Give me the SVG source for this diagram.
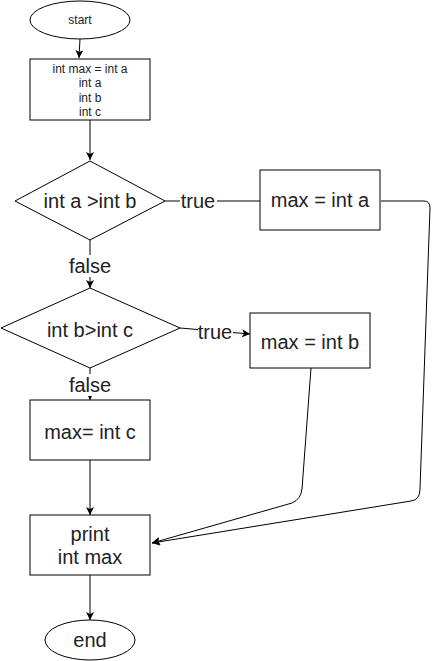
<svg xmlns="http://www.w3.org/2000/svg" width="439" height="661" viewBox="0 0 439 661">
<style>
.shape{fill:#fff;stroke:#000;stroke-width:1}
.edge{fill:none;stroke:#000;stroke-width:1}
text{font-family:"Liberation Sans",Arial,sans-serif;fill:#222;text-anchor:middle;dominant-baseline:central}
.s{font-size:12px}
.l{font-size:20px}
.lbl{fill:#fff;stroke:none}
</style>
<defs>
<marker id="arr" markerWidth="10" markerHeight="10" refX="8" refY="4" orient="auto" markerUnits="userSpaceOnUse">
<path d="M0,0 L8,4 L0,8 L2,4 z" fill="#000"/>
</marker>
</defs>
<rect width="439" height="661" fill="#fff"/>
<g id="connectors">
<path class="edge" d="M80,39 L79,58" marker-end="url(#arr)"/>
<path class="edge" d="M90,120 L90,160" marker-end="url(#arr)"/>
<path class="edge" d="M165,201 L260,201"/>
<path class="edge" d="M90,240 L90,288" marker-end="url(#arr)"/>
<path class="edge" d="M180,328 L250,334" marker-end="url(#arr)"/>
<path class="edge" d="M90,368 L90,400" marker-end="url(#arr)"/>
<path class="edge" d="M90,460 L90,515" marker-end="url(#arr)"/>
<path class="edge" d="M90,575 L90,620" marker-end="url(#arr)"/>
<path class="edge" d="M381,201 L424,201 Q430,201 430,208 L420,489 Q420,500 411,501 L152,543" marker-end="url(#arr)"/>
<path class="edge" d="M311,368 L302,489 Q301,499 292,503 L152,543" marker-end="url(#arr)"/>
<rect class="lbl" x="180" y="190" width="37" height="22"/>
<text class="l" x="198" y="201">true</text>
<rect class="lbl" x="198" y="322" width="35" height="22"/>
<text class="l" x="215" y="332">true</text>
<rect class="lbl" x="68" y="255" width="44" height="22"/>
<text class="l" x="90" y="266">false</text>
<rect class="lbl" x="68" y="374" width="44" height="22"/>
<text class="l" x="90" y="385">false</text>
</g>
<g id="start">
<ellipse class="shape" cx="80" cy="20" rx="50" ry="19"/>
<text class="s" x="80" y="20">start</text>
</g>
<g id="init">
<rect class="shape" x="30" y="59" width="120" height="61"/>
<text class="s" x="90" y="69">int max = int a</text>
<text class="s" x="90" y="83">int a</text>
<text class="s" x="90" y="98">int b</text>
<text class="s" x="90" y="112">int c</text>
</g>
<g id="dec1">
<path class="shape" d="M90,161 L165,201 L90,240 L15,201 Z"/>
<text class="l" x="90" y="201">int a &gt;int b</text>
</g>
<g id="maxa">
<rect class="shape" x="260" y="170" width="120" height="60"/>
<text class="l" x="320" y="200">max = int a</text>
</g>
<g id="dec2">
<path class="shape" d="M90,288 L180,328 L90,368 L1,328 Z"/>
<text class="l" x="90" y="330">int b&gt;int c</text>
</g>
<g id="maxb">
<rect class="shape" x="250" y="313" width="120" height="55"/>
<text class="l" x="310" y="342">max = int b</text>
</g>
<g id="maxc">
<rect class="shape" x="30" y="400" width="120" height="60"/>
<text class="l" x="90" y="432">max= int c</text>
</g>
<g id="print">
<rect class="shape" x="30" y="515" width="120" height="60"/>
<text class="l" x="90" y="534">print</text>
<text class="l" x="90" y="557">int max</text>
</g>
<g id="end">
<ellipse class="shape" cx="90" cy="640" rx="45" ry="20"/>
<text class="l" x="90" y="640">end</text>
</g>
</svg>
